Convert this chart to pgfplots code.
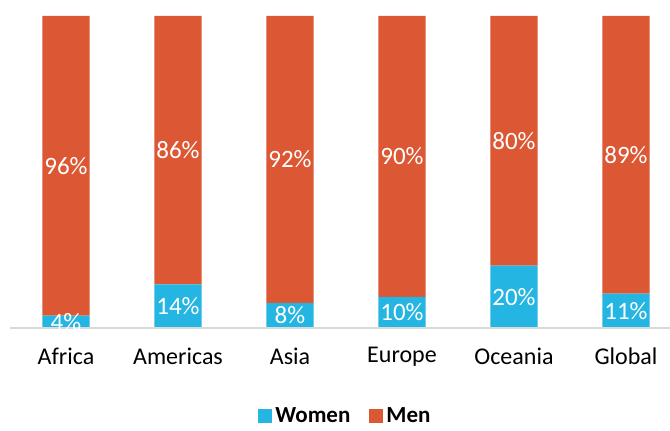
\documentclass[border=0pt]{standalone}
\usepackage{fontspec}
\setmainfont{Carlito}
\usepackage{pgfplots}
\pgfplotsset{compat=1.18}
\definecolor{women}{HTML}{24B5E2}
\definecolor{men}{HTML}{DC5733}
\definecolor{axisgray}{HTML}{D9D9D9}
\begin{document}
\begin{tikzpicture}
\pgfplotsset{
  common/.style={
    scale only axis, width=660pt, height=312pt,
    xmin=-0.5, xmax=5.393, ymin=0, ymax=100,
  }
}
\begin{axis}[
  common,
  ybar stacked, bar width=0.42,
  axis lines=none,
  xtick={0,1,2,3,4,5},
  xticklabels={Africa,Americas,Asia,Europe,Oceania,Global},
  hide y axis,
  axis x line=none,
  legend style={at={(0.509,-0.282)}, anchor=center, draw=none,
    inner sep=0pt,
    legend columns=2, font=\fontsize{23}{26}\selectfont\bfseries,
    /tikz/every even column/.append style={column sep=16pt},
    /tikz/every node/.append style={inner xsep=3pt, inner ysep=0pt}},
  legend image code/.code={\fill[#1] (0pt,-7pt) rectangle (14pt,7pt);},
]
\addplot[fill=women, draw=none] coordinates {(0,4) (1,14) (2,8) (3,10) (4,20) (5,11)};
\addplot[fill=men, draw=none] coordinates {(0,96) (1,86) (2,92) (3,90) (4,80) (5,89)};
\legend{Women, Men}
\path (rel axis cs:0,0) ++(-10pt,-102pt) coordinate (bbsw);
\path (rel axis cs:1,1) ++(0pt,16pt) coordinate (bbne);
\end{axis}
\begin{axis}[
  common,
  axis on top,
  axis x line*=bottom, axis y line=none,
  x axis line style={draw=axisgray, line width=1.5pt},
  xtick={0,1,2,3,4,5},
  xticklabels={Africa,Americas,Asia,Europe,Oceania,Global},
  major tick length=0pt,
  xticklabel style={font=\fontsize{24}{28}\selectfont, yshift=-16pt},
  clip=false,
  nodes near coords,
  point meta=explicit symbolic,
  every node near coord/.style={anchor=center, text=white, font=\fontsize{25}{30}\selectfont},
]
\addplot[only marks, mark=none] table[meta=label] {
x y label
0 2 4\%
1 7 14\%
2 4 8\%
3 5 10\%
4 10 20\%
5 5.5 11\%
};
\addplot[only marks, mark=none] table[meta=label] {
x y label
0 52 96\%
1 57 86\%
2 54 92\%
3 55 90\%
4 60 80\%
5 55.5 89\%
};
\end{axis}
\pgfresetboundingbox
\path (bbsw) rectangle (bbne);
\end{tikzpicture}
\end{document}
